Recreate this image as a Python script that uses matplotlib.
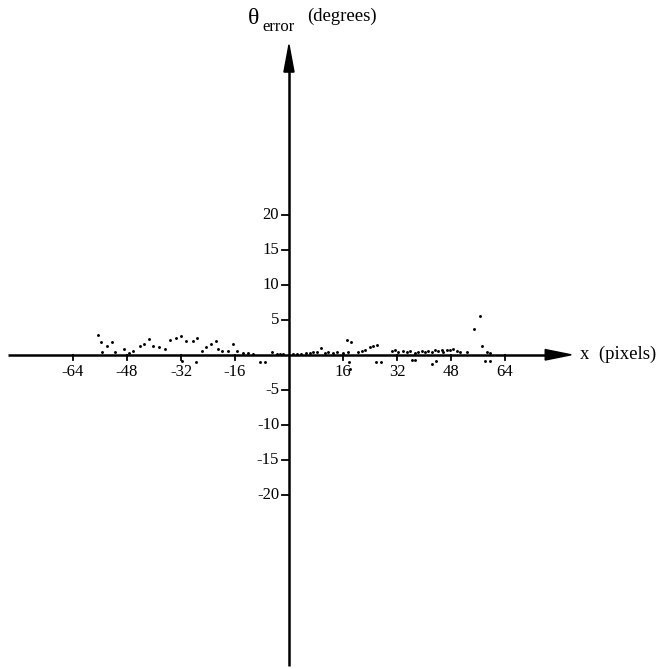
import matplotlib
matplotlib.use("Agg")
import matplotlib.pyplot as plt
from matplotlib.patches import Polygon

plt.rcParams['font.family'] = ['Liberation Serif', 'DejaVu Serif']

# puntos medidos (x en pixels, error en grados)
x_neg = [-56.6, -55.7, -55.5, -54.0, -52.5, -51.6, -48.8, -47.4, -46.1, -44.1,
         -42.8, -41.5, -40.2, -38.4, -36.7, -35.3, -33.6, -32.0, -30.5, -28.5,
         -27.1, -25.9, -24.6, -23.1, -21.6, -20.9, -19.7, -18.2, -16.5, -15.5,
         -13.5, -12.1, -10.6, -8.6, -7.1, -5.1, -3.6, -2.7, -1.7, -31.6, -27.5]
y_neg = [2.86, 1.76, 0.33, 1.29, 1.80, 0.33, 0.80, 0.24, 0.57, 1.29,
         1.57, 2.24, 1.29, 1.05, 0.81, 2.14, 2.38, 2.71, 1.90, 2.00,
         2.38, 0.57, 1.05, 1.52, 2.00, 0.81, 0.48, 0.48, 1.52, 0.48,
         0.24, 0.24, 0.10, -1.10, -1.10, 0.38, 0.10, 0.10, 0.10, -0.90, -1.00]

x_pos = [1.3, 2.5, 3.7, 5.0, 6.2, 7.2, 8.2, 9.4, 10.7, 11.6,
         12.9, 14.1, 16.1, 17.1, 18.4, 17.6, 17.9, 18.1, 20.5, 21.5,
         22.5, 24.0, 25.0, 26.0, 25.8, 27.3, 30.4, 31.4, 32.4, 33.9,
         34.9, 35.9, 37.3, 38.3, 39.3, 40.3, 41.3, 42.3, 43.3, 44.2,
         45.2, 45.7, 46.7, 47.7, 48.7, 49.7, 50.7, 52.6, 36.3, 37.3,
         42.3, 43.6, 54.8, 56.6, 57.2, 58.6, 59.6, 58.1, 59.6]
y_pos = [0.14, 0.14, 0.14, 0.24, 0.24, 0.33, 0.33, 0.95, 0.24, 0.33,
         0.24, 0.33, 0.24, 2.14, 1.76, 0.33, -1.10, -2.05, 0.33, 0.48,
         0.71, 1.05, 1.19, 1.43, -1.10, -1.10, 0.48, 0.62, 0.33, 0.48,
         0.33, 0.48, 0.24, 0.33, 0.48, 0.33, 0.48, 0.33, 0.62, 0.48,
         0.62, 0.33, 0.71, 0.62, 0.81, 0.48, 0.33, 0.33, -0.70, -0.70,
         -1.30, -0.90, 3.67, 5.48, 1.29, 0.33, 0.24, -0.86, -0.86]

xticks = [-64, -48, -32, -16, 16, 32, 48, 64]
yticks = [-20, -15, -10, -5, 5, 10, 15, 20]

fig = plt.figure(figsize=(6.61, 6.69), dpi=100)
ax = fig.add_axes([0, 0, 1, 1])
ax.set_xlim(-85.6, 110.2)
ax.set_ylim(-44.9, 50.7)
ax.axis('off')

lw = 1.8
# ejes
ax.plot([-83.3, 77], [0, 0], c='black', lw=lw, solid_capstyle='butt')
ax.plot([0, 0], [-44.4, 41], c='black', lw=lw, solid_capstyle='butt')
ax.add_patch(Polygon([[83.6, 0], [75.9, 0.75], [75.9, -0.75]], closed=True, color='black'))
ax.add_patch(Polygon([[0, 44.3], [-1.5, 40.4], [1.5, 40.4]], closed=True, color='black'))

# marcas
for xt in xticks:
    ax.plot([xt, xt], [0, -0.8], c='black', lw=1.3)
    ax.text(xt, -2.5, str(xt), ha='center', va='center', fontsize=12)
for yt in yticks:
    ax.plot([-2.0, 0], [yt, yt], c='black', lw=1.3)
    ax.text(-2.9, yt, str(yt), ha='right', va='center', fontsize=12)

# puntos
ax.plot(x_neg, y_neg, 'o', c='black', ms=2.1, mew=0)
ax.plot(x_pos, y_pos, 'o', c='black', ms=2.1, mew=0)

ax.text(86.2, 0.1, "x  (pixels)", ha='left', va='center', fontsize=13.5)
ax.text(-12.3, 48.0, "θ", ha='left', va='center', fontsize=17)
ax.text(-8.0, 46.9, "error", ha='left', va='center', fontsize=12)
ax.text(5.3, 48.3, "(degrees)", ha='left', va='center', fontsize=13.5)

fig.savefig("out.png", dpi=100)
